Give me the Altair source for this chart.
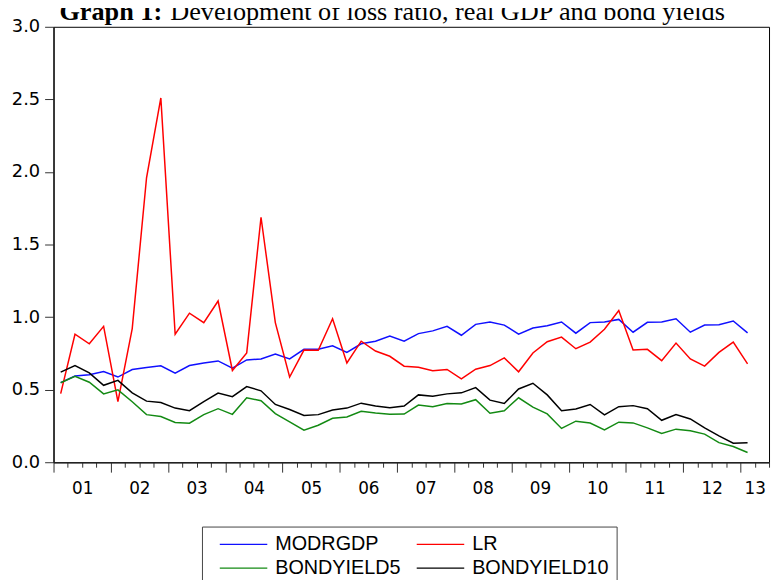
import altair as alt
import pandas as pd

series_names = ["MODRGDP", "LR", "BONDYIELD5", "BONDYIELD10"]
series_colors = ["#1010ff", "#ff0000", "#138a13", "#000000"]
# legend fills column by column: order so that rows read MODRGDP | LR, BONDYIELD5 | BONDYIELD10
legend_order = ["MODRGDP", "BONDYIELD5", "LR", "BONDYIELD10"]

year_labels = ["01", "02", "03", "04", "05", "06", "07", "08", "09", "10", "11", "12", "13"]

modrgdp = [0.548, 0.594, 0.603, 0.625, 0.587, 0.639, 0.653, 0.664, 0.614, 0.666,
           0.684, 0.698, 0.648, 0.705, 0.712, 0.746, 0.712, 0.778, 0.778, 0.802,
           0.757, 0.816, 0.834, 0.870, 0.834, 0.886, 0.905, 0.936, 0.875, 0.950,
           0.966, 0.945, 0.882, 0.925, 0.941, 0.966, 0.889, 0.962, 0.966, 0.984,
           0.896, 0.964, 0.966, 0.989, 0.896, 0.945, 0.948, 0.973, 0.891]
lr = [0.473, 0.882, 0.816, 0.936, 0.417, 0.921, 1.960, 2.510, 0.882, 1.027,
      0.962, 1.111, 0.632, 0.753, 1.688, 0.962, 0.587, 0.773, 0.771, 0.989,
      0.684, 0.834, 0.766, 0.730, 0.662, 0.655, 0.630, 0.639, 0.575, 0.641,
      0.666, 0.719, 0.623, 0.753, 0.830, 0.862, 0.782, 0.828, 0.916, 1.045,
      0.773, 0.778, 0.700, 0.821, 0.712, 0.662, 0.757, 0.828, 0.678]
bondyield5 = [0.548, 0.592, 0.551, 0.471, 0.499, 0.417, 0.328, 0.315, 0.274, 0.269,
              0.328, 0.369, 0.330, 0.444, 0.424, 0.335, 0.278, 0.221, 0.255, 0.303,
              0.312, 0.351, 0.339, 0.330, 0.332, 0.394, 0.383, 0.405, 0.401, 0.431,
              0.337, 0.355, 0.444, 0.380, 0.333, 0.233, 0.283, 0.270, 0.223, 0.276,
              0.271, 0.237, 0.199, 0.228, 0.217, 0.194, 0.135, 0.108, 0.067]
bondyield10 = [0.621, 0.666, 0.616, 0.530, 0.564, 0.478, 0.421, 0.412, 0.373, 0.355,
               0.417, 0.476, 0.452, 0.521, 0.492, 0.398, 0.363, 0.322, 0.328, 0.360,
               0.373, 0.407, 0.387, 0.376, 0.387, 0.464, 0.455, 0.471, 0.478, 0.514,
               0.428, 0.405, 0.505, 0.544, 0.464, 0.355, 0.367, 0.398, 0.326, 0.383,
               0.390, 0.369, 0.289, 0.328, 0.298, 0.237, 0.182, 0.131, 0.135]

title_bold = "Graph 1:"
title_rest = "Development of loss ratio, real GDP and bond yields"

# quarters 2001Q1 .. 2013Q1, plotted at the middle of each quarter
rows = []
for name, vals in zip(series_names, [modrgdp, lr, bondyield5, bondyield10]):
    for i, v in enumerate(vals):
        rows.append({"q": i + 0.5, "value": v, "series": name})
df = pd.DataFrame(rows)

# x-axis label text per quarter boundary (label centred in each year)
lab = [""] * 51
for k, yl in enumerate(year_labels):
    pos = 4 * k + 2
    if k == len(year_labels) - 1:
        pos = 49
    lab[pos] = yl
label_expr = "[" + ",".join("'" + s + "'" for s in lab) + "][datum.value]"

color_map = dict(zip(series_names, series_colors))

W, H = 723, 440

lines = alt.Chart(df).mark_line(strokeWidth=1.5).encode(
    x=alt.X("q:Q",
            scale=alt.Scale(domain=[0, 50], nice=False, zero=False),
            axis=alt.Axis(values=list(range(0, 51)), labelExpr=label_expr,
                          title=None, grid=False, labelOverlap=False, labelFlush=False,
                          tickSize={"condition": {"test": "datum.value % 4 === 0", "value": 10}, "value": 5},
                          tickColor="#333", tickWidth=1, domainColor="#222", domainWidth=1.5,
                          labelFont="DejaVu Sans", labelFontSize=17, labelColor="black",
                          labelPadding=14)),
    y=alt.Y("value:Q",
            scale=alt.Scale(domain=[0, 3], nice=False),
            axis=alt.Axis(values=[0, 0.5, 1.0, 1.5, 2.0, 2.5, 3.0], format=".1f",
                          title=None, grid=False, tickSize=9, tickColor="#333",
                          domainColor="#222", domainWidth=1.5,
                          labelFont="DejaVu Sans", labelFontSize=18, labelColor="black",
                          labelPadding=5)),
    color=alt.Color("series:N",
                    scale=alt.Scale(domain=legend_order,
                                    range=[color_map[s] for s in legend_order]),
                    sort=legend_order,
                    legend=alt.Legend(orient="none", legendX=150, legendY=505, columns=2,
                                      title=None, symbolType="M0,0H6", symbolSize=256,
                                      symbolStrokeWidth=1.5, labelFont="Liberation Sans",
                                      labelFontSize=20, labelColor="black", labelOffset=46,
                                      padding=8, strokeColor="#444", fillColor="white",
                                      rowPadding=4, columnPadding=6)),
)

t1 = alt.Chart(pd.DataFrame({"t": [title_bold]})).mark_text(
    font="Liberation Serif", fontSize=26.5, fontWeight="bold", align="left", baseline="alphabetic"
).encode(text="t:N", x=alt.value(6), y=alt.value(-7))

t2 = alt.Chart(pd.DataFrame({"t": [title_rest]})).mark_text(
    font="Liberation Serif", fontSize=26.5, align="left", baseline="alphabetic"
).encode(text="t:N", x=alt.value(118), y=alt.value(-7))

chart = alt.layer(lines, t1, t2).properties(
    width=W, height=H,
    autosize=alt.AutoSizeParams(type="none"),
    padding={"left": 46, "top": 16, "right": 3, "bottom": 116},
).configure_view(stroke="black", strokeWidth=1)

chart.save("out.html", embed_options={"renderer": "svg", "actions": False})
